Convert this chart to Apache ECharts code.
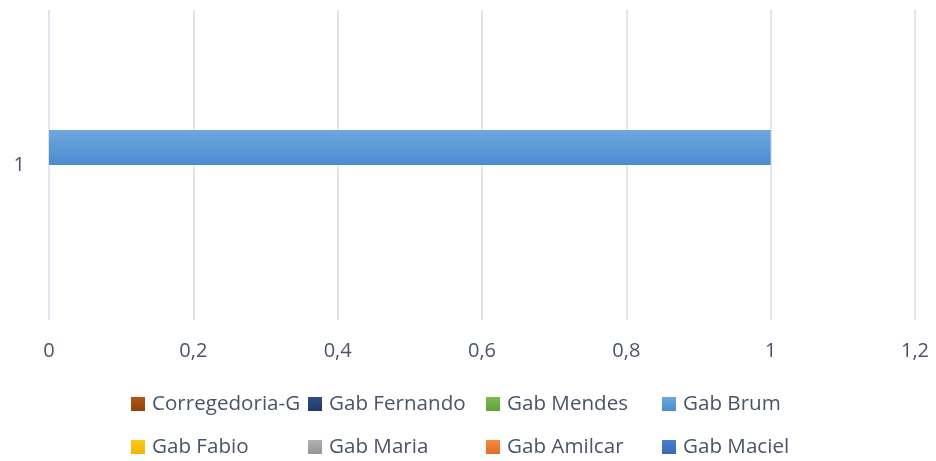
<!DOCTYPE html>
<html><head><meta charset="utf-8">
<script src="https://cdn.jsdelivr.net/npm/echarts@6/dist/echarts.min.js"></script>
<style>html,body{margin:0;padding:0;background:#fff}#c{width:936px;height:461px}</style>
</head><body><div id="c"></div>
<script>
const categories = ['1'];
const seriesNames = ['Corregedoria-G','Gab Fernando','Gab Mendes','Gab Brum','Gab Fabio','Gab Maria','Gab Amilcar','Gab Maciel'];
const seriesValues = [[null],[null],[null],[1],[null],[null],[null],[null]];
const xTicks = [0, 0.2, 0.4, 0.6, 0.8, 1, 1.2];
const colors = [
  ['#b0561a','#943f0b'],
  ['#2d4f86','#1f3a69'],
  ['#7cbb52','#63a03c'],
  ['#6fa6de','#4a8ccf'],
  ['#ffc81a','#f2b500'],
  ['#b0b0b0','#979797'],
  ['#f58a40','#e06d22'],
  ['#4d7fcf','#3a66b8']
];
const textColor = '#4a5468';
const font = 'Open Sans';

function grad(c){return new echarts.graphic.LinearGradient(0,0,0,1,[{offset:0,color:c[0]},{offset:1,color:c[1]}]);}

const series = seriesNames.map((n,i)=>({
  name:n, type:'bar', data:seriesValues[i], barWidth:35, barGap:'0%',
  itemStyle:{color:grad(colors[i])}
}));
const colX = [131, 308, 486, 662];
const rowY = [392, 435];
const legends = seriesNames.map((n,i)=>({
  left:colX[i%4], top:rowY[Math.floor(i/4)], padding:0, itemWidth:14, itemHeight:14,
  icon:'rect', data:[n],
  textStyle:{color:textColor, fontFamily:font, fontSize:20.6, lineHeight:24, padding:[0,0,0,2]}
}));

const chart = echarts.init(document.getElementById('c'));
chart.setOption({
  animation:false,
  color: colors.map(c=>c[1]),
  grid:{left:49, right:21, top:10, bottom:141, containLabel:false},
  legend: legends,
  xAxis:{type:'value', min:0, max:1.2, interval:0.2,
    axisLine:{show:false}, axisTick:{show:false},
    splitLine:{lineStyle:{color:'#d9dde8', width:1.5}},
    axisLabel:{margin:21, color:textColor, fontFamily:font, fontSize:20,
      formatter:v=>String(Math.round(v*10)/10).replace('.',',')}},
  yAxis:{type:'category', data:categories, inverse:true,
    axisLine:{show:false}, axisTick:{show:false},
    axisLabel:{margin:24, color:textColor, fontFamily:font, fontSize:20}},
  series: series
});
</script></body></html>
